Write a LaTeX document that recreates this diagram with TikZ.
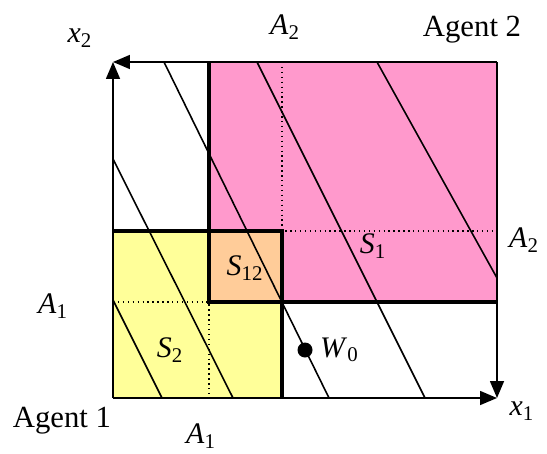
\documentclass[tikz,border=0pt]{standalone}
\usepackage{fontspec}
\setmainfont{Liberation Serif}
\usetikzlibrary{arrows.meta,positioning}
\definecolor{pinkset}{HTML}{FF99CC}
\definecolor{yellowset}{HTML}{FFFF99}
\definecolor{orangeset}{HTML}{FFCC99}
\newcommand{\sym}[2]{\textit{#1}\textsubscript{#2}}

\begin{document}
\begin{tikzpicture}[
    x=0.02cm, y=-0.02cm,
    axis/.style={-{Triangle[length=3.4mm,width=2.8mm]}, line width=0.9pt},
    edge/.style={line width=2.2pt},
    guide/.style={dotted, line width=0.8pt},
    budget/.style={line width=0.9pt},
    lbl/.style={font=\fontsize{17}{19}\selectfont, inner sep=1pt},
    agent/.style={font=\fontsize{17.5}{20}\selectfont, inner sep=1pt}
]
\useasboundingbox (0,0) rectangle (547,453);
% corners of the box
\coordinate (O1) at (113,398);
\coordinate (O2) at (497,62);
\coordinate (TL) at (113,62);
\coordinate (BR) at (497,398);
% the sets
\fill[pinkset] (209,62) rectangle (497,302);
\fill[yellowset] (113,231) rectangle (282,398);
\fill[orangeset] (209,231) rectangle (282,302);
% guides
\draw[guide] (282,62) -- (282,231) -- (497,231);
\draw[guide] (113,302) -- (209,302) -- (209,398);
% budget lines
\draw[budget] (113,300) -- (162,398);
\draw[budget] (113,159) -- (233,398);
\draw[budget] (164,62) -- (329,398);
\draw[budget] (257,62) -- (425,398);
\draw[budget] (377,62) -- (497,278);
% borders
\draw[edge] (209,62) -- (209,302) -- (497,302);
\draw[edge] (113,231) -- (282,231) -- (282,398);
% axes
\draw[axis] (O1) -- (BR);
\draw[axis] (O1) -- (TL);
\draw[axis] (O2) -- (TL);
\draw[axis] (O2) -- (BR);
% labels
\node[lbl] (x2) at (80,38) {\sym{x}{2}};
\node[lbl] (a2top) at (285,27) {\sym{A}{2}};
\node[agent] (agent2) at (472,30) {Agent 2};
\node[lbl] (a2right) at (524,240) {\sym{A}{2}};
\node[lbl] (a1left) at (53,306) {\sym{A}{1}};
\node[agent] (agent1) at (62,421) {Agent 1};
\node[lbl] (a1bottom) at (201,436) {\sym{A}{1}};
\node[lbl] (x1) at (522,411) {\sym{x}{1}};
\node[lbl] (s1) at (373,246) {\sym{S}{1}};
\node[lbl] (s12) at (245,268) {\sym{S}{12}};
\node[lbl] (s2) at (170,350) {\sym{S}{2}};
\node[circle, fill, inner sep=0pt, minimum size=0.3cm] (w0) at (305,350) {};
\node[lbl, right=3pt of w0] (w0lbl) {\sym{W}{0}};
\end{tikzpicture}
\end{document}
